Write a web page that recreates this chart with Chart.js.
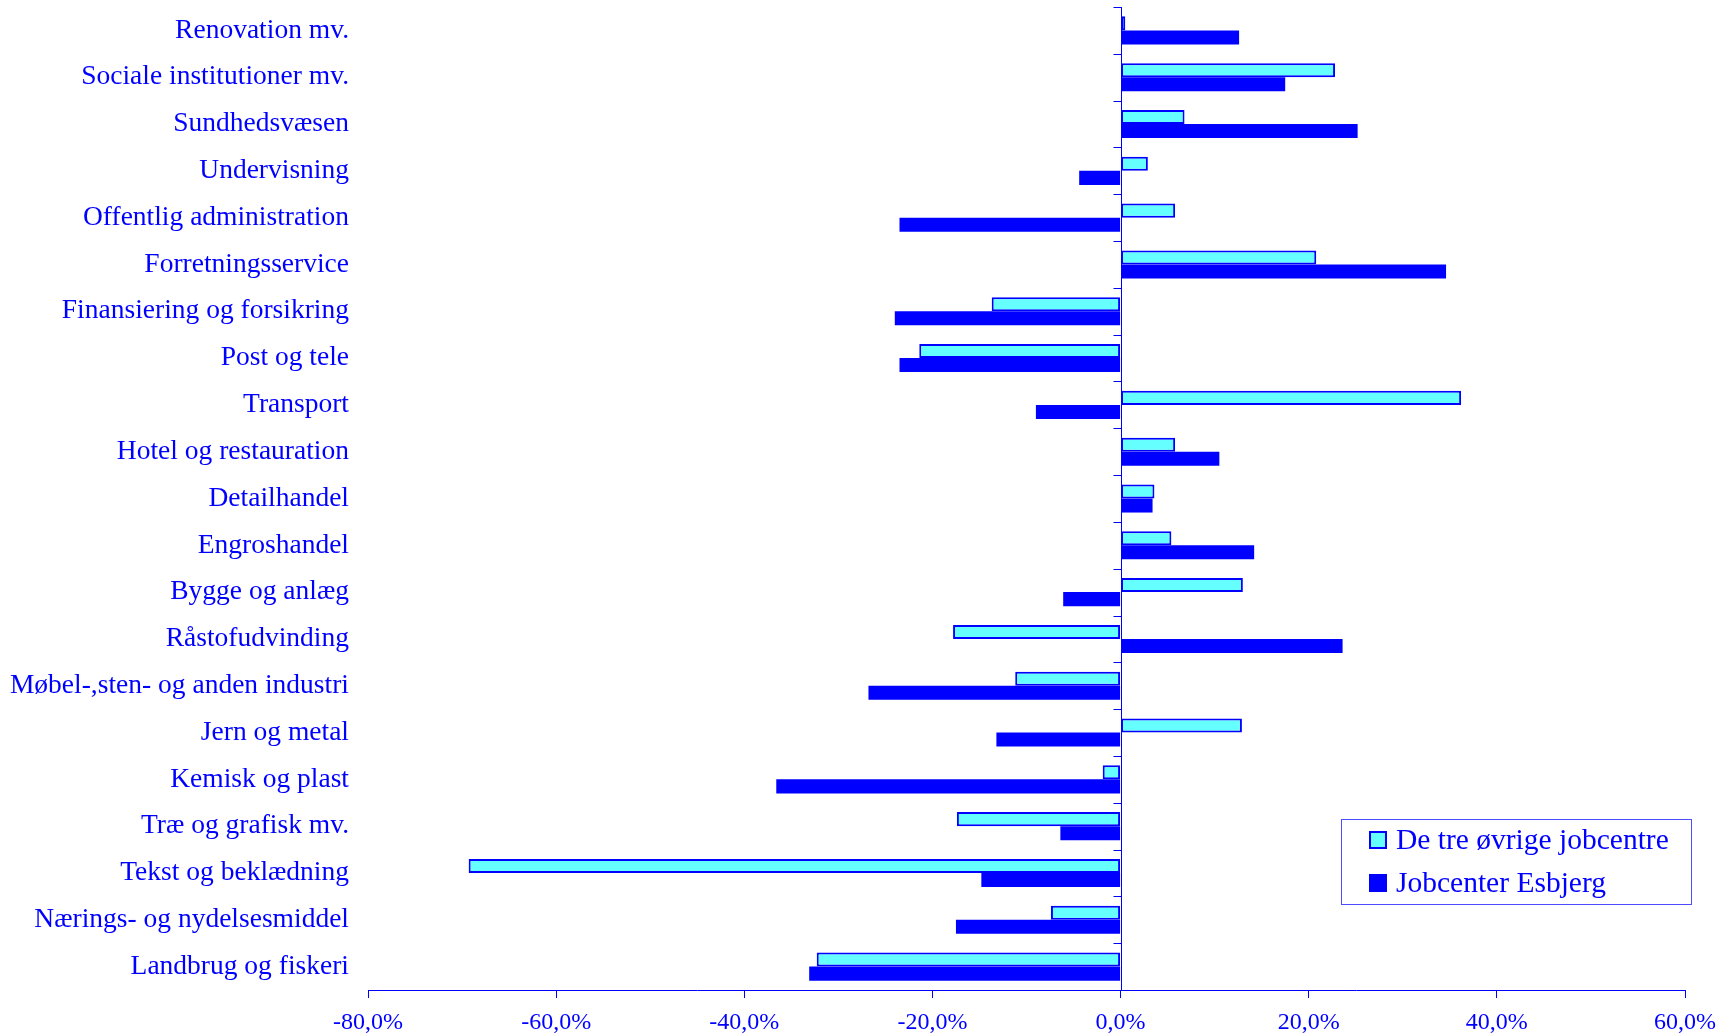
<!DOCTYPE html>
<html>
<head>
<meta charset="utf-8">
<script src="https://cdn.jsdelivr.net/npm/chart.js@4"></script>
<style>
  body { margin: 0; background: #fff; }
  #wrap { position: relative; width: 1718px; height: 1035px; }
  #legend {
    position: absolute; left: 1341px; top: 819px; width: 349px; height: 84px;
    border: 1px solid #4d4dff; font-family: "Liberation Serif", serif;
    font-size: 29.5px; color: #0000ff;
  }
  #legend .item { position: absolute; left: 27px; display: flex; align-items: center; white-space: nowrap; }
  #legend .box { width: 18px; height: 18px; margin-right: 9px; box-sizing: border-box; }
</style>
</head>
<body>
<div id="wrap">
  <canvas id="chart" width="1718" height="1035"></canvas>
  <div id="legend"></div>
</div>
<script>
// categories, top to bottom
const categories = [
  "Renovation mv.", "Sociale institutioner mv.", "Sundhedsvæsen", "Undervisning",
  "Offentlig administration", "Forretningsservice", "Finansiering og forsikring",
  "Post og tele", "Transport", "Hotel og restauration", "Detailhandel",
  "Engroshandel", "Bygge og anlæg", "Råstofudvinding", "Møbel-,sten- og anden industri",
  "Jern og metal", "Kemisk og plast", "Træ og grafisk mv.", "Tekst og beklædning",
  "Nærings- og nydelsesmiddel", "Landbrug og fiskeri"
];

const seriesNames = ["De tre øvrige jobcentre", "Jobcenter Esbjerg"];

// percent change
const ovrige = [0.5, 22.8, 6.8, 2.9, 5.8, 20.8, -13.7, -21.4, 36.2, 5.8, 3.6,
  5.4, 13.0, -17.8, -11.2, 12.9, -1.9, -17.4, -69.3, -7.4, -32.3];
const esbjerg = [12.6, 17.5, 25.2, -4.4, -23.5, 34.6, -24.0, -23.5, -9.0, 10.5, 3.4,
  14.2, -6.1, 23.6, -26.8, -13.2, -36.6, -6.4, -14.8, -17.5, -33.1];

const xTicks = [-80, -60, -40, -20, 0, 20, 40, 60];

const blue = "#0000ff";
const cyan = "#66ffff";
const font = "Liberation Serif";

// vertical line at 0 with short ticks between the categories
const zeroAxis = {
  id: "zeroAxis",
  afterDatasetsDraw(chart) {
    const { ctx, chartArea, scales } = chart;
    const x0 = Math.round(scales.x.getPixelForValue(0)) + 0.5;
    const y = scales.y;
    const band = y.getPixelForValue(1) - y.getPixelForValue(0);
    ctx.save();
    ctx.strokeStyle = blue;
    ctx.lineWidth = 1;
    ctx.beginPath();
    ctx.moveTo(x0, chartArea.top);
    ctx.lineTo(x0, chartArea.bottom);
    for (let i = 0; i <= categories.length; i++) {
      const yy = Math.round(y.getPixelForValue(i) - band / 2) + 0.5;
      ctx.moveTo(x0 - 8, yy);
      ctx.lineTo(x0, yy);
    }
    ctx.stroke();
    ctx.restore();
  },
};

new Chart(document.getElementById("chart"), {
  type: "bar",
  data: {
    labels: categories,
    datasets: [
      {
        label: seriesNames[0],
        data: ovrige,
        backgroundColor: cyan,
        borderColor: blue,
        borderWidth: 2,
        borderSkipped: false,
        categoryPercentage: 0.6,
        barPercentage: 1.0,
      },
      {
        label: seriesNames[1],
        data: esbjerg,
        backgroundColor: blue,
        borderColor: blue,
        borderWidth: 0,
        categoryPercentage: 0.6,
        barPercentage: 1.0,
      },
    ],
  },
  plugins: [zeroAxis],
  options: {
    indexAxis: "y",
    responsive: false,
    animation: false,
    devicePixelRatio: 1,
    layout: { padding: { top: 7, right: 33, left: 0, bottom: 0 } },
    plugins: { legend: { display: false }, tooltip: { enabled: false } },
    scales: {
      x: {
        min: xTicks[0],
        max: xTicks[xTicks.length - 1],
        afterBuildTicks: (s) => { s.ticks = xTicks.map((v) => ({ value: v })); },
        afterFit: (s) => { s.height = 45; s.paddingLeft = 0; s.paddingRight = 0; },
        grid: { drawOnChartArea: false, drawTicks: true, tickLength: 8, color: blue },
        border: { display: true, color: blue, width: 1 },
        ticks: {
          color: blue,
          padding: 10,
          maxRotation: 0,
          font: { family: font, size: 24 },
          callback: (v) => v.toFixed(1).replace(".", ",") + "%",
        },
      },
      y: {
        position: "left",
        afterFit: (s) => { s.width = 368; s.paddingTop = 0; s.paddingBottom = 0; },
        grid: { display: false },
        border: { display: false },
        ticks: { color: blue, padding: 11, font: { family: font, size: 27.5 } },
      },
    },
  },
});

// legend box in the lower right of the plot
const legendEl = document.getElementById("legend");
const legendColors = [[cyan, blue], [blue, blue]];
seriesNames.forEach((name, i) => {
  const item = document.createElement("div");
  item.className = "item";
  item.style.top = (i === 0 ? 3 : 46) + "px";
  item.innerHTML = `<span class="box" style="background:${legendColors[i][0]};border:2px solid ${legendColors[i][1]}"></span>${name}`;
  legendEl.appendChild(item);
});
</script>
</body>
</html>
